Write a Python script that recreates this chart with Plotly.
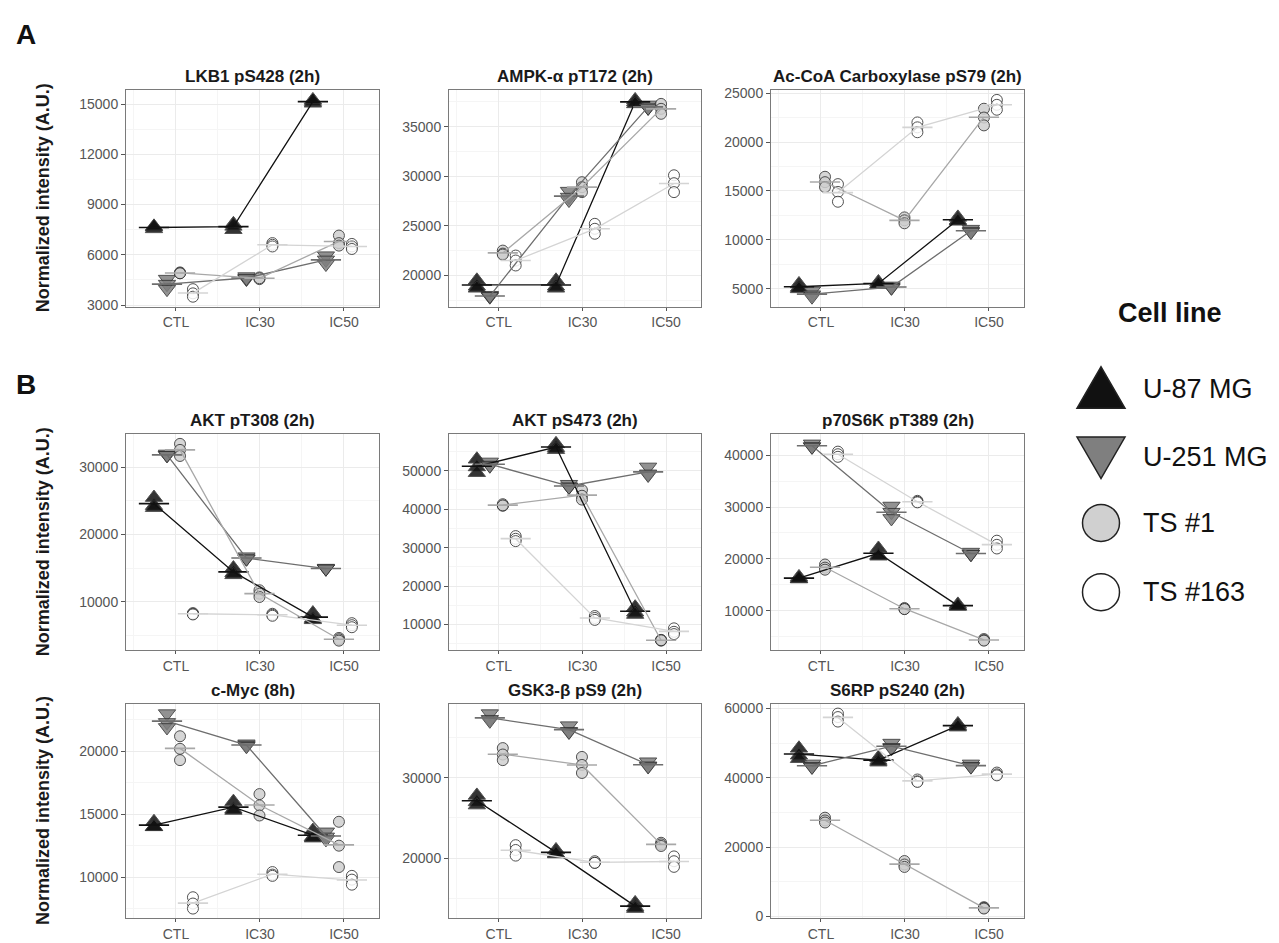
import numpy as np
import plotly.graph_objects as go

# ---------------- data ----------------
conditions = ["CTL", "IC30", "IC50"]
cell_lines = ["U-87 MG", "U-251 MG", "TS #1", "TS #163"]

# each array: 3 conditions (CTL, IC30, IC50) x 3 replicates
lkb1_u87 = [[7550, 7650, 7700], [7500, 7700, 7850], [15050, 15150, 15250]]
lkb1_u251 = [[4550, 4250, 3950], [4700, 4550, 4600], [5950, 5700, 5450]]
lkb1_ts1 = [[4950, 4900, 4900], [4650, 4550, 4600], [7150, 6700, 6550]]
lkb1_ts163 = [[3950, 3700, 3500], [6700, 6600, 6500], [6650, 6500, 6350]]

ampk_u87 = [[19500, 18900, 18700], [19500, 18900, 18700], [37700, 37500, 37300]]
ampk_u251 = [[18000, 17850, 17900], [28500, 27900, 27600], [37200, 36900, 36900]]
ampk_ts1 = [[22500, 22200, 22100], [29400, 28900, 28400], [37300, 36800, 36300]]
ampk_ts163 = [[22000, 21500, 21000], [25200, 24700, 24200], [30100, 29300, 28400]]

acc_u87 = [[5500, 5150, 5000], [5700, 5500, 5450], [12300, 12000, 11900]]
acc_u251 = [[4800, 4400, 4200], [5300, 5150, 5100], [11100, 10900, 10800]]
acc_ts1 = [[16450, 15900, 15400], [12300, 12000, 11700], [23400, 22500, 21700]]
acc_ts163 = [[15700, 14900, 13900], [22000, 21500, 21000], [24300, 23800, 23300]]

t308_u87 = [[25500, 24300, 24000], [15000, 14300, 14000], [8300, 7500, 7300]]
t308_u251 = [[32000, 31800, 31800], [16700, 16400, 16400], [15000, 14900, 14900]]
t308_ts1 = [[33500, 32600, 31700], [11700, 11200, 10700], [4600, 4400, 4200]]
t308_ts163 = [[8300, 8200, 8100], [8200, 8050, 7900], [6800, 6500, 6200]]

s473_u87 = [[53000, 51000, 49500], [57000, 56000, 55500], [14500, 13200, 12600]]
s473_u251 = [[52300, 51500, 51300], [46500, 45800, 45800], [51000, 49200, 48900]]
s473_ts1 = [[41300, 40900, 41000], [45000, 43500, 42500], [6000, 5800, 5900]]
s473_ts163 = [[33000, 32300, 31700], [12200, 11700, 11200], [9000, 8100, 7500]]

p70_u87 = [[16500, 16100, 16200], [22000, 20700, 20500], [11200, 10900, 10800]]
p70_u251 = [[42200, 41700, 41600], [30200, 29000, 27800], [21300, 20900, 20900]]
p70_ts1 = [[18900, 18300, 17900], [10500, 10300, 10300], [4500, 4300, 4200]]
p70_ts163 = [[40700, 40200, 39700], [31200, 31000, 30900], [23500, 22700, 22000]]

myc_u87 = [[14400, 14000, 14000], [16000, 15400, 15300], [13700, 13200, 13100]]
myc_u251 = [[23000, 22300, 21900], [20600, 20500, 20400], [13600, 13200, 13000]]
myc_ts1 = [[21200, 20200, 19300], [16600, 15700, 14900], [14400, 12500, 10800]]
myc_ts163 = [[8400, 7900, 7500], [10400, 10200, 10100], [10100, 9800, 9400]]

gsk_u87 = [[27800, 27000, 26600], [21000, 20600, 20500], [14400, 13900, 13700]]
gsk_u251 = [[38000, 37300, 37100], [36500, 35800, 35700], [32000, 31500, 31400]]
gsk_ts1 = [[33700, 32900, 32200], [32600, 31600, 30600], [21900, 21700, 21500]]
gsk_ts163 = [[21600, 21000, 20300], [19600, 19400, 19400], [20200, 19600, 18900]]

s6_u87 = [[48500, 46500, 45500], [45800, 45000, 44500], [55500, 55000, 54600]]
s6_u251 = [[44000, 43300, 43100], [50000, 48800, 48500], [44000, 43300, 43200]]
s6_ts1 = [[28500, 27700, 27100], [16000, 15000, 14300], [2700, 2500, 2300]]
s6_ts163 = [[58500, 57500, 56200], [39500, 39000, 38800], [41500, 41000, 40700]]

panel_titles = ["LKB1 pS428 (2h)", "AMPK-α pT172 (2h)", "Ac-CoA Carboxylase pS79 (2h)",
                "AKT pT308 (2h)", "AKT pS473 (2h)", "p70S6K pT389 (2h)",
                "c-Myc (8h)", "GSK3-β pS9 (2h)", "S6RP pS240 (2h)"]
panel_data = [
    [lkb1_u87, lkb1_u251, lkb1_ts1, lkb1_ts163],
    [ampk_u87, ampk_u251, ampk_ts1, ampk_ts163],
    [acc_u87, acc_u251, acc_ts1, acc_ts163],
    [t308_u87, t308_u251, t308_ts1, t308_ts163],
    [s473_u87, s473_u251, s473_ts1, s473_ts163],
    [p70_u87, p70_u251, p70_ts1, p70_ts163],
    [myc_u87, myc_u251, myc_ts1, myc_ts163],
    [gsk_u87, gsk_u251, gsk_ts1, gsk_ts163],
    [s6_u87, s6_u251, s6_ts1, s6_ts163],
]
panel_yticks = [
    [3000, 6000, 9000, 12000, 15000],
    [20000, 25000, 30000, 35000],
    [5000, 10000, 15000, 20000, 25000],
    [10000, 20000, 30000],
    [10000, 20000, 30000, 40000, 50000],
    [10000, 20000, 30000, 40000],
    [10000, 15000, 20000],
    [20000, 30000],
    [0, 20000, 40000, 60000],
]

# ---------------- style ----------------
FONT = "Liberation Sans, Arial, Helvetica, sans-serif"
fill_colors = ["#111111", "#7f7f7f", "#d0d0d0", "#ffffff"]
line_colors = ["#111111", "#6e6e6e", "#a8a8a8", "#d4d4d4"]
symbols = ["triangle-up", "triangle-down", "circle", "circle"]
sizes = [15, 15, 11, 11]

W, H = 1279, 943
col_px = [(118, 371), (441, 693), (763, 1016)]
row_px = [(78, 297), (426, 645), (699, 916)]

cat_step = 0.946
dodge = [-0.262, -0.107, 0.048, 0.202]
half_bar = 0.18

fig = go.Figure()
layout = dict(
    width=W, height=H, margin=dict(l=0, r=0, t=0, b=0),
    paper_bgcolor="white", plot_bgcolor="rgba(0,0,0,0)", showlegend=False,
    font=dict(family=FONT, color="#4d4d4d"),
)
annotations = []
shapes = []

for i, (title, series, yt) in enumerate(zip(panel_titles, panel_data, panel_yticks)):
    r, c = divmod(i, 3)
    n = i + 1
    xs = "" if n == 1 else str(n)
    xref, yref = "x" + xs, "y" + xs
    x0p, x1p = col_px[c]
    y0p, y1p = row_px[r]

    allv = np.array(series, dtype=float).ravel()
    lo, hi = allv.min(), allv.max()
    pad = 0.05 * (hi - lo)

    for g, vals in enumerate(series):
        vals = np.array(vals, dtype=float)
        xc = [1 + k * cat_step + dodge[g] for k in range(3)]
        px, py = [], []
        for k in range(3):
            for v in vals[k]:
                px.append(xc[k]); py.append(v)
        fig.add_trace(go.Scatter(
            x=px, y=py, mode="markers", xaxis=xref, yaxis=yref,
            marker=dict(symbol=symbols[g], size=sizes[g], color=fill_colors[g], opacity=0.85,
                        line=dict(color="#333333", width=1)),
            hoverinfo="skip"))
    for g, vals in enumerate(series):
        vals = np.array(vals, dtype=float)
        means = vals.mean(axis=1)
        xc = [1 + k * cat_step + dodge[g] for k in range(3)]
        bx, by = [], []
        for k in range(3):
            bx += [xc[k] - half_bar, xc[k] + half_bar, None]
            by += [means[k], means[k], None]
        fig.add_trace(go.Scatter(x=bx, y=by, mode="lines", xaxis=xref, yaxis=yref,
                                 line=dict(color=line_colors[g], width=1.6), hoverinfo="skip"))
        fig.add_trace(go.Scatter(x=xc, y=means, mode="lines", xaxis=xref, yaxis=yref,
                                 line=dict(color=line_colors[g], width=1.3), hoverinfo="skip"))

    step = yt[1] - yt[0]
    minor_y = [t + step / 2 for t in [yt[0] - step] + yt]
    layout["xaxis" + xs] = dict(
        domain=[x0p / W, x1p / W], anchor=yref, range=[0.405, 3.417],
        tickmode="array", tickvals=[1, 2, 3], ticktext=conditions,
        showgrid=True, gridcolor="#ebebeb", gridwidth=1, zeroline=False,
        minor=dict(showgrid=True, gridcolor="#f5f5f5", tickvals=[0.5, 1.5, 2.5, 3.5], ticklen=0),
        showline=True, mirror=True, linecolor="#7a7a7a", linewidth=1,
        ticks="outside", ticklen=3, tickcolor="#555555",
        tickfont=dict(size=14, color="#555555", family=FONT),
    )
    layout["yaxis" + xs] = dict(
        domain=[1 - y1p / H, 1 - y0p / H], anchor=xref, range=[lo - pad, hi + pad],
        tickmode="array", tickvals=yt, ticktext=[str(t) for t in yt],
        showgrid=True, gridcolor="#ebebeb", gridwidth=1, zeroline=False,
        minor=dict(showgrid=True, gridcolor="#f5f5f5", tickvals=minor_y, ticklen=0),
        showline=True, mirror=True, linecolor="#7a7a7a", linewidth=1,
        ticks="outside", ticklen=4, tickcolor="#555555",
        tickfont=dict(size=14, color="#555555", family=FONT),
    )
    annotations.append(dict(
        text="<b>%s</b>" % title, xref="paper", yref="paper",
        x=(x0p + x1p) / 2 / W, y=1 - (y0p - 2) / H, xanchor="center", yanchor="bottom",
        showarrow=False, font=dict(size=17, color="#1a1a1a", family=FONT)))

for (y0p, y1p) in row_px:
    annotations.append(dict(
        text="<b>Normalized intensity (A.U.)</b>", xref="paper", yref="paper",
        x=35 / W, y=1 - (y0p + y1p) / 2 / H, xanchor="center", yanchor="middle",
        textangle=-90, showarrow=False, font=dict(size=18, color="#1a1a1a", family=FONT)))

annotations.append(dict(text="<b>A</b>", xref="paper", yref="paper", x=6 / W, y=1 - 4 / H,
                        xanchor="left", yanchor="top", showarrow=False,
                        font=dict(size=28, color="#111111", family=FONT)))
annotations.append(dict(text="<b>B</b>", xref="paper", yref="paper", x=6 / W, y=1 - 358 / H,
                        xanchor="left", yanchor="top", showarrow=False,
                        font=dict(size=28, color="#111111", family=FONT)))

# ---------------- legend (manual) ----------------
LX0, LX1, LY0, LY1 = 1040, 1279, 340, 660
leg_x = 1093
leg_y = [380, 449, 516, 586]
tri_w, tri_h = 24, 21
layout["xaxis10"] = dict(domain=[LX0 / W, LX1 / W], range=[LX0, LX1], visible=False, anchor="y10")
layout["yaxis10"] = dict(domain=[1 - LY1 / H, 1 - LY0 / H], range=[LY1, LY0], visible=False, anchor="x10")
# triangles (equilateral, as in ggplot's legend keys)
shapes.append(dict(type="path", xref="x10", yref="y10",
                   path="M %g,%g L %g,%g L %g,%g Z" % (leg_x - tri_w, leg_y[0] + tri_h * 0.95,
                                                     leg_x + tri_w, leg_y[0] + tri_h * 0.95,
                                                     leg_x, leg_y[0] - tri_h * 1.05),
                   fillcolor=fill_colors[0], line=dict(color="#222222", width=1.5)))
shapes.append(dict(type="path", xref="x10", yref="y10",
                   path="M %g,%g L %g,%g L %g,%g Z" % (leg_x - tri_w, leg_y[1] - tri_h * 0.95,
                                                     leg_x + tri_w, leg_y[1] - tri_h * 0.95,
                                                     leg_x, leg_y[1] + tri_h * 1.05),
                   fillcolor=fill_colors[1], line=dict(color="#222222", width=1.5)))
for g in (2, 3):
    fig.add_trace(go.Scatter(
        x=[leg_x], y=[leg_y[g]], mode="markers", xaxis="x10", yaxis="y10",
        marker=dict(symbol=symbols[g], size=37, color=fill_colors[g],
                    line=dict(color="#222222", width=1.5)),
        cliponaxis=False, hoverinfo="skip"))
for g in range(4):
    annotations.append(dict(text=cell_lines[g], xref="paper", yref="paper",
                            x=1133 / W, y=1 - leg_y[g] / H, xanchor="left", yanchor="middle",
                            showarrow=False, font=dict(size=27, color="#111111", family=FONT)))
annotations.append(dict(text="<b>Cell line</b>", xref="paper", yref="paper",
                        x=1162 / W, y=1 - 304 / H, xanchor="center", yanchor="middle",
                        showarrow=False, font=dict(size=27, color="#111111", family=FONT)))

layout["annotations"] = annotations
layout["shapes"] = shapes
fig.update_layout(**layout)
fig.write_html("out.html")
